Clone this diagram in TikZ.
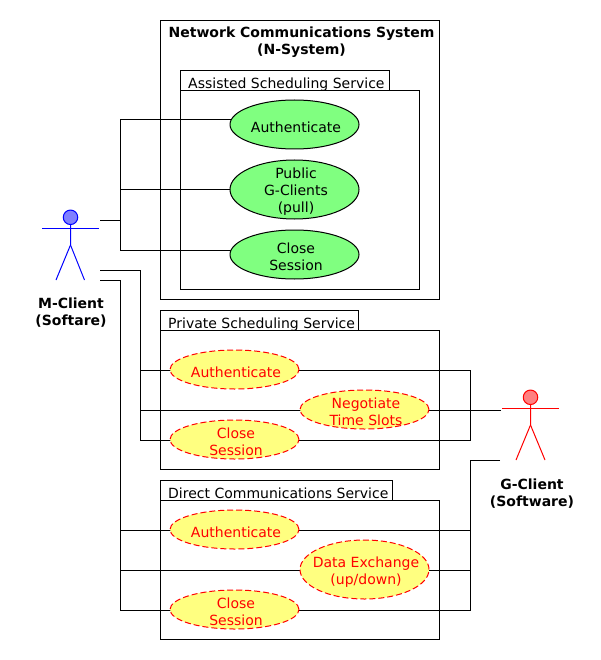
\documentclass[tikz,border=0pt]{standalone}
\usepackage{fontspec}
\setmainfont{DejaVu Sans}
\usetikzlibrary{shapes.geometric,backgrounds}
\definecolor{ucgreen}{HTML}{80FF80}
\definecolor{ucyellow}{HTML}{FFFF80}
\definecolor{headblue}{HTML}{8080FF}
\definecolor{headred}{HTML}{FF8080}
\tikzset{
  box/.style={draw=black,line width=1pt,rectangle,anchor=north west,inner sep=0pt},
  tabtext/.style={anchor=base west,inner sep=0pt,font=\fontsize{14}{17}\selectfont},
  ucbase/.style={ellipse,inner sep=0pt,minimum width=129pt},
  uctext/.style={align=center,inner sep=0pt,xshift=1.5pt,yshift=-2.5pt,font=\fontsize{14}{17}\selectfont},
  ucg/.style={ucbase,draw=black,line width=1pt,fill=ucgreen},
  ucy/.style={ucbase,draw=red,dash pattern=on 6pt off 3pt,line width=1pt,fill=ucyellow},
  redtext/.style={uctext,text=red},
  conn/.style={draw=black,line width=1pt},
  actorlabel/.style={align=center,inner sep=0pt,font=\fontsize{14}{17}\selectfont\bfseries},
  head/.style={circle,draw,line width=1pt,minimum size=14.5pt,inner sep=0pt},
  stick/.style={line width=1pt}
}
\begin{document}
\begin{tikzpicture}[x=1pt,y=-1pt]
\useasboundingbox (0,0) rectangle (600,660);
% system
\node[box,minimum width=279pt,minimum height=279pt] (sys) at (160,20) {};
\node[actorlabel,anchor=center] (systitle) at (301.5,42.5) {Network Communications System\\(N-System)};
% assisted
\node[box,minimum width=209pt,minimum height=20pt] (atab) at (180,70) {};
\node[box,minimum width=239pt,minimum height=199pt] (abody) at (180,90) {};
\node[tabtext] (alabel) at (188,88.5) {Assisted Scheduling Service};
% private
\node[box,minimum width=198pt,minimum height=20pt] (ptab) at (160,310) {};
\node[box,minimum width=279pt,minimum height=139pt] (pbody) at (160,330) {};
\node[tabtext] (plabel) at (168,328.5) {Private Scheduling Service};
% direct
\node[box,minimum width=232pt,minimum height=20pt] (dtab) at (160,480) {};
\node[box,minimum width=279pt,minimum height=139pt] (dbody) at (160,500) {};
\node[tabtext] (dlabel) at (168,498.5) {Direct Communications Service};
% use cases
\node[ucg,minimum height=49pt,label={[uctext]center:Authenticate}] (a1) at (294.5,124.5) {};
\node[ucg,minimum height=59pt,label={[uctext]center:Public\\G-Clients\\(pull)}] (a2) at (294.5,189.5) {};
\node[ucg,minimum height=49pt,label={[uctext]center:Close\\Session}] (a3) at (294.5,254.5) {};
\node[ucy,minimum height=39pt,label={[redtext]center:Authenticate}] (p1) at (234.5,369.5) {};
\node[ucy,minimum height=39pt,label={[redtext]center:Negotiate\\Time Slots}] (p2) at (364.5,409.5) {};
\node[ucy,minimum height=39pt,label={[redtext]center:Close\\Session}] (p3) at (234.5,439.5) {};
\node[ucy,minimum height=39pt,label={[redtext]center:Authenticate}] (d1) at (234.5,529.5) {};
\node[ucy,minimum height=59pt,label={[redtext]center:Data Exchange\\(up/down)}] (d2) at (364.5,569.5) {};
\node[ucy,minimum height=39pt,label={[redtext]center:Close\\Session}] (d3) at (234.5,609.5) {};
% M actor
\node[head,draw=blue,fill=headblue] (mhead) at (70.5,217.3) {};
\coordinate (mneck) at (70.5,245);
\coordinate (mla) at (42,228);
\coordinate (mra) at (99,228);
\coordinate (mll) at (56,280);
\coordinate (mrl) at (84.5,280);
\draw[stick,blue] (mhead) -- (mneck) -- (mll);
\draw[stick,blue] (mneck) -- (mrl);
\draw[stick,blue] (mla) -- (mra);
\node[actorlabel] (mlabel) at (71,313) {M-Client\\(Softare)};
% G actor
\node[head,draw=red,fill=headred] (ghead) at (530.5,397.3) {};
\coordinate (gneck) at (530.5,425);
\coordinate (gla) at (502,408);
\coordinate (gra) at (559,408);
\coordinate (gll) at (516,460);
\coordinate (grl) at (545,460);
\draw[stick,red] (ghead) -- (gneck) -- (gll);
\draw[stick,red] (gneck) -- (grl);
\draw[stick,red] (gla) -- (gra);
\node[actorlabel] (glabel) at (532,493.5) {G-Client\\(Software)};
% connector anchors
\coordinate (m1) at (100,220);
\coordinate (m2) at (100,270);
\coordinate (m3) at (100,280);
\coordinate (g1) at (501,410);
\coordinate (g2) at (500,460);
\coordinate (t1a) at (120,120);
\coordinate (t1b) at (120,190);
\coordinate (t1c) at (120,250);
\coordinate (t2a) at (140,370);
\coordinate (t2b) at (140,410);
\coordinate (t2c) at (140,440);
\coordinate (t3a) at (120,530);
\coordinate (t3b) at (120,570);
\coordinate (t3c) at (120,610);
\coordinate (r1a) at (470,370);
\coordinate (r1c) at (470,440);
\coordinate (r2a) at (470,530);
\coordinate (r2b) at (470,570);
\coordinate (r2c) at (470,610);
\begin{scope}[on background layer]
\draw[conn] (t1a) -- (t1c);
\draw[conn] (m1) -- (m1 -| t1a);
\draw[conn] (t1a) -- (t1a -| a1.center);
\draw[conn] (t1b) -- (t1b -| a2.center);
\draw[conn] (t1c) -- (t1c -| a3.center);
\draw[conn] (m2) -- (m2 -| t2a) -- (t2c) -- (t2c -| p3.center);
\draw[conn] (t2a) -- (t2a -| p1.center);
\draw[conn] (t2b) -- (t2b -| p2.center);
\draw[conn] (m3) -- (m3 -| t3a) -- (t3c) -- (t3c -| d3.center);
\draw[conn] (t3a) -- (t3a -| d1.center);
\draw[conn] (t3b) -- (t3b -| d2.center);
\draw[conn] (p1.center |- r1a) -- (r1a) -- (r1c) -- (p3.center |- r1c);
\draw[conn] (g1) -- (g1 -| p2.center);
\draw[conn] (g2) -- (g2 -| r2a) -- (r2c) -- (d3.center |- r2c);
\draw[conn] (r2a) -- (d1.center |- r2a);
\draw[conn] (r2b) -- (d2.center |- r2b);
\end{scope}
\end{tikzpicture}
\end{document}
